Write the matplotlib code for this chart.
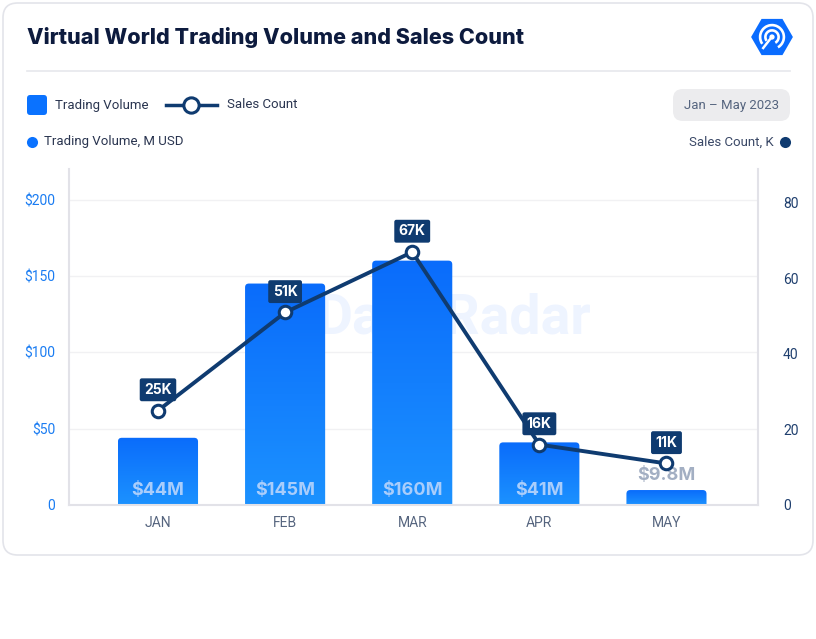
import numpy as np
import matplotlib.pyplot as plt
from matplotlib.patches import FancyBboxPatch, RegularPolygon, Circle, Wedge
from matplotlib.lines import Line2D
from matplotlib.colors import LinearSegmentedColormap

# Données
months = ['JAN', 'FEB', 'MAR', 'APR', 'MAY']
volume = [44, 145, 160, 41, 9.8]          # M USD
volume_labels = ['$44M', '$145M', '$160M', '$41M', '$9.8M']
sales = [25, 51, 67, 16, 11]              # K
sales_labels = ['25K', '51K', '67K', '16K', '11K']
left_ticks = [0, 50, 100, 150, 200]
left_ticklabels = ['0', '$50', '$100', '$150', '$200']
right_ticks = [0, 20, 40, 60, 80]

W, H = 816, 639
NAVY = '#0f3b70'
BLUE = '#0a72ff'
GRAY_TXT = '#56657f'

plt.rcParams['font.family'] = ['Roboto', 'DejaVu Sans']

fig = plt.figure(figsize=(W / 100, H / 100), dpi=100, facecolor='white')

def fx(x):
    return x / W

def fy(y):
    return 1 - y / H

# Carte
card = FancyBboxPatch((fx(3), fy(555)), fx(810), (552) / H,
                      boxstyle='round,pad=0,rounding_size=0.018',
                      transform=fig.transFigure, facecolor='white',
                      edgecolor='#e3e4ea', linewidth=1.2, mutation_aspect=W / H, zorder=-10)
fig.patches.append(card)

# Titre
fig.text(fx(27), fy(38), 'Virtual World Trading Volume and Sales Count',
         fontsize=15.5, fontweight='heavy', color='#0d1b3e', family=['Inter', 'DejaVu Sans'],
         va='center', ha='left')
fig.add_artist(Line2D([fx(27), fx(790)], [fy(71), fy(71)], color='#e6e7ec', lw=1.2))

# Logo
logo_ax = fig.add_axes([fx(750), fy(59), 44 / W, 44 / H])
logo_ax.set_xlim(-1, 1)
logo_ax.set_ylim(-1, 1)
logo_ax.set_aspect('equal')
logo_ax.axis('off')
logo_ax.add_patch(RegularPolygon((0, 0), 6, radius=0.95, orientation=np.pi / 6,
                                 facecolor='#0a6cff', edgecolor='none'))
for r in [0.6, 0.36]:
    logo_ax.add_patch(Wedge((0, 0), r, -60, 215, width=0.12, facecolor='white'))
logo_ax.add_patch(Circle((0, 0), 0.12, facecolor='white'))
logo_ax.plot([-0.05, -0.4], [-0.05, -0.5], color='white', lw=1.8)

# Légende
fig.patches.append(FancyBboxPatch((fx(27), fy(115)), 20 / W, 20 / H,
                                  boxstyle='round,pad=0,rounding_size=0.004',
                                  transform=fig.transFigure, facecolor=BLUE,
                                  edgecolor='none', mutation_aspect=W / H))
fig.text(fx(55), fy(105), 'Trading Volume', fontsize=9.5, color='#2a3550', va='center')
fig.add_artist(Line2D([fx(166), fx(217)], [fy(105), fy(105)], color=NAVY, lw=2.5))
fig.add_artist(Line2D([fx(191)], [fy(105)], marker='o', markersize=11, markerfacecolor='white',
                      markeredgecolor=NAVY, markeredgewidth=2.2))
fig.text(fx(227), fy(105), 'Sales Count', fontsize=9.5, color='#2a3550', va='center')

fig.patches.append(FancyBboxPatch((fx(673), fy(121)), 117 / W, 32 / H,
                                  boxstyle='round,pad=0,rounding_size=0.012',
                                  transform=fig.transFigure, facecolor='#ececee',
                                  edgecolor='none', mutation_aspect=W / H))
fig.text(fx(731.5), fy(105), 'Jan \u2013 May 2023', fontsize=9.5, color=GRAY_TXT,
         va='center', ha='center')

fig.add_artist(Line2D([fx(32)], [fy(142)], marker='o', markersize=8, color=BLUE, mec='none'))
fig.text(fx(44), fy(142), 'Trading Volume, M USD', fontsize=9.5, color='#2a3550', va='center')
fig.add_artist(Line2D([fx(785)], [fy(142)], marker='o', markersize=8, color=NAVY, mec='none'))
fig.text(fx(774), fy(142), 'Sales Count, K', fontsize=9.5, color='#3a4866', va='center', ha='right')

# Axes principaux
ax = fig.add_axes([fx(69), fy(505), (758 - 69) / W, (505 - 169) / H])
ax.set_facecolor('none')
x = np.arange(len(months))

# Filigrane
ax.text(2.33, 122, 'DappRadar', fontsize=40, fontweight='bold', color='#eef4ff',
        ha='center', va='center', zorder=0)
ax.text(0.82, 122, '\u25CF', fontsize=34, color='#eef4ff', ha='center', va='center', zorder=0)

bars = ax.bar(x, volume, width=0.63)
ax.set_xlim(-0.7, 4.72)
ax.set_ylim(0, 220)
ypx = (505 - 169) / 220      # px par unité
xpx = (758 - 69) / 5.42
grad = np.linspace(0, 1, 256).reshape(-1, 1)
cmap = LinearSegmentedColormap.from_list('bl', ['#1c92ff', '#0a6cfb'])
for b in list(bars):
    bx, bw, bh = b.get_x(), b.get_width(), b.get_height()
    b.remove()
    p = FancyBboxPatch((bx, -5), bw, bh + 5, boxstyle='round,pad=0,rounding_size=0.03',
                       mutation_aspect=xpx / ypx, facecolor='none', edgecolor='none', zorder=2)
    ax.add_patch(p)
    im = ax.imshow(grad, cmap=cmap, aspect='auto', extent=[bx, bx + bw, 0, bh],
                   origin='lower', zorder=2)
    im.set_clip_path(p)

ax.set_xlim(-0.7, 4.72)
ax.set_ylim(0, 220)

for i, (v, lab) in enumerate(zip(volume, volume_labels)):
    if v > 30:
        ax.text(i, 9.5, lab, ha='center', va='center', fontsize=13, fontweight='bold',
                color='#a9cdfb', zorder=4, family=['Inter', 'DejaVu Sans'])
    else:
        ax.text(i, v + 9.5, lab, ha='center', va='center', fontsize=13, fontweight='bold',
                color='#a3afc3', zorder=4, family=['Inter', 'DejaVu Sans'])

ax.set_yticks(left_ticks)
ax.set_yticklabels(left_ticklabels)
ax.set_xticks(x)
ax.set_xticklabels(months)
ax.tick_params(axis='y', length=0, pad=10, labelsize=10, labelcolor='#1a7cf2')
ax.tick_params(axis='x', length=0, pad=8, labelsize=10, labelcolor=GRAY_TXT)
ax.grid(axis='y', color='#f1f1f3', lw=1)
ax.set_axisbelow(True)
ax.spines['top'].set_visible(False)
for s in ['left', 'bottom', 'right']:
    ax.spines[s].set_color('#e2e2e8')
    ax.spines[s].set_linewidth(1.5)

# Axe secondaire : ventes
ax2 = ax.twinx()
ax2.set_ylim(0, 89)
ax2.plot(x, sales, color=NAVY, lw=2.8, marker='o', markersize=9, markerfacecolor='white',
         markeredgecolor=NAVY, markeredgewidth=2.2, zorder=5)
for i, (v, lab) in enumerate(zip(sales, sales_labels)):
    ax2.annotate(lab, (i, v), xytext=(0, 15), textcoords='offset points', ha='center',
                 va='center', fontsize=10, fontweight='bold', color='white',
                 family=['Inter', 'DejaVu Sans'],
                 bbox=dict(boxstyle='round,pad=0.32,rounding_size=0.15', fc=NAVY, ec='none'),
                 zorder=6)
ax2.set_yticks(right_ticks)
ax2.tick_params(axis='y', length=0, pad=18, labelsize=10, labelcolor='#1f3f6e')
for s in ['top', 'left', 'bottom', 'right']:
    ax2.spines[s].set_visible(False)

fig.savefig('out.png', dpi=100, facecolor='white')
